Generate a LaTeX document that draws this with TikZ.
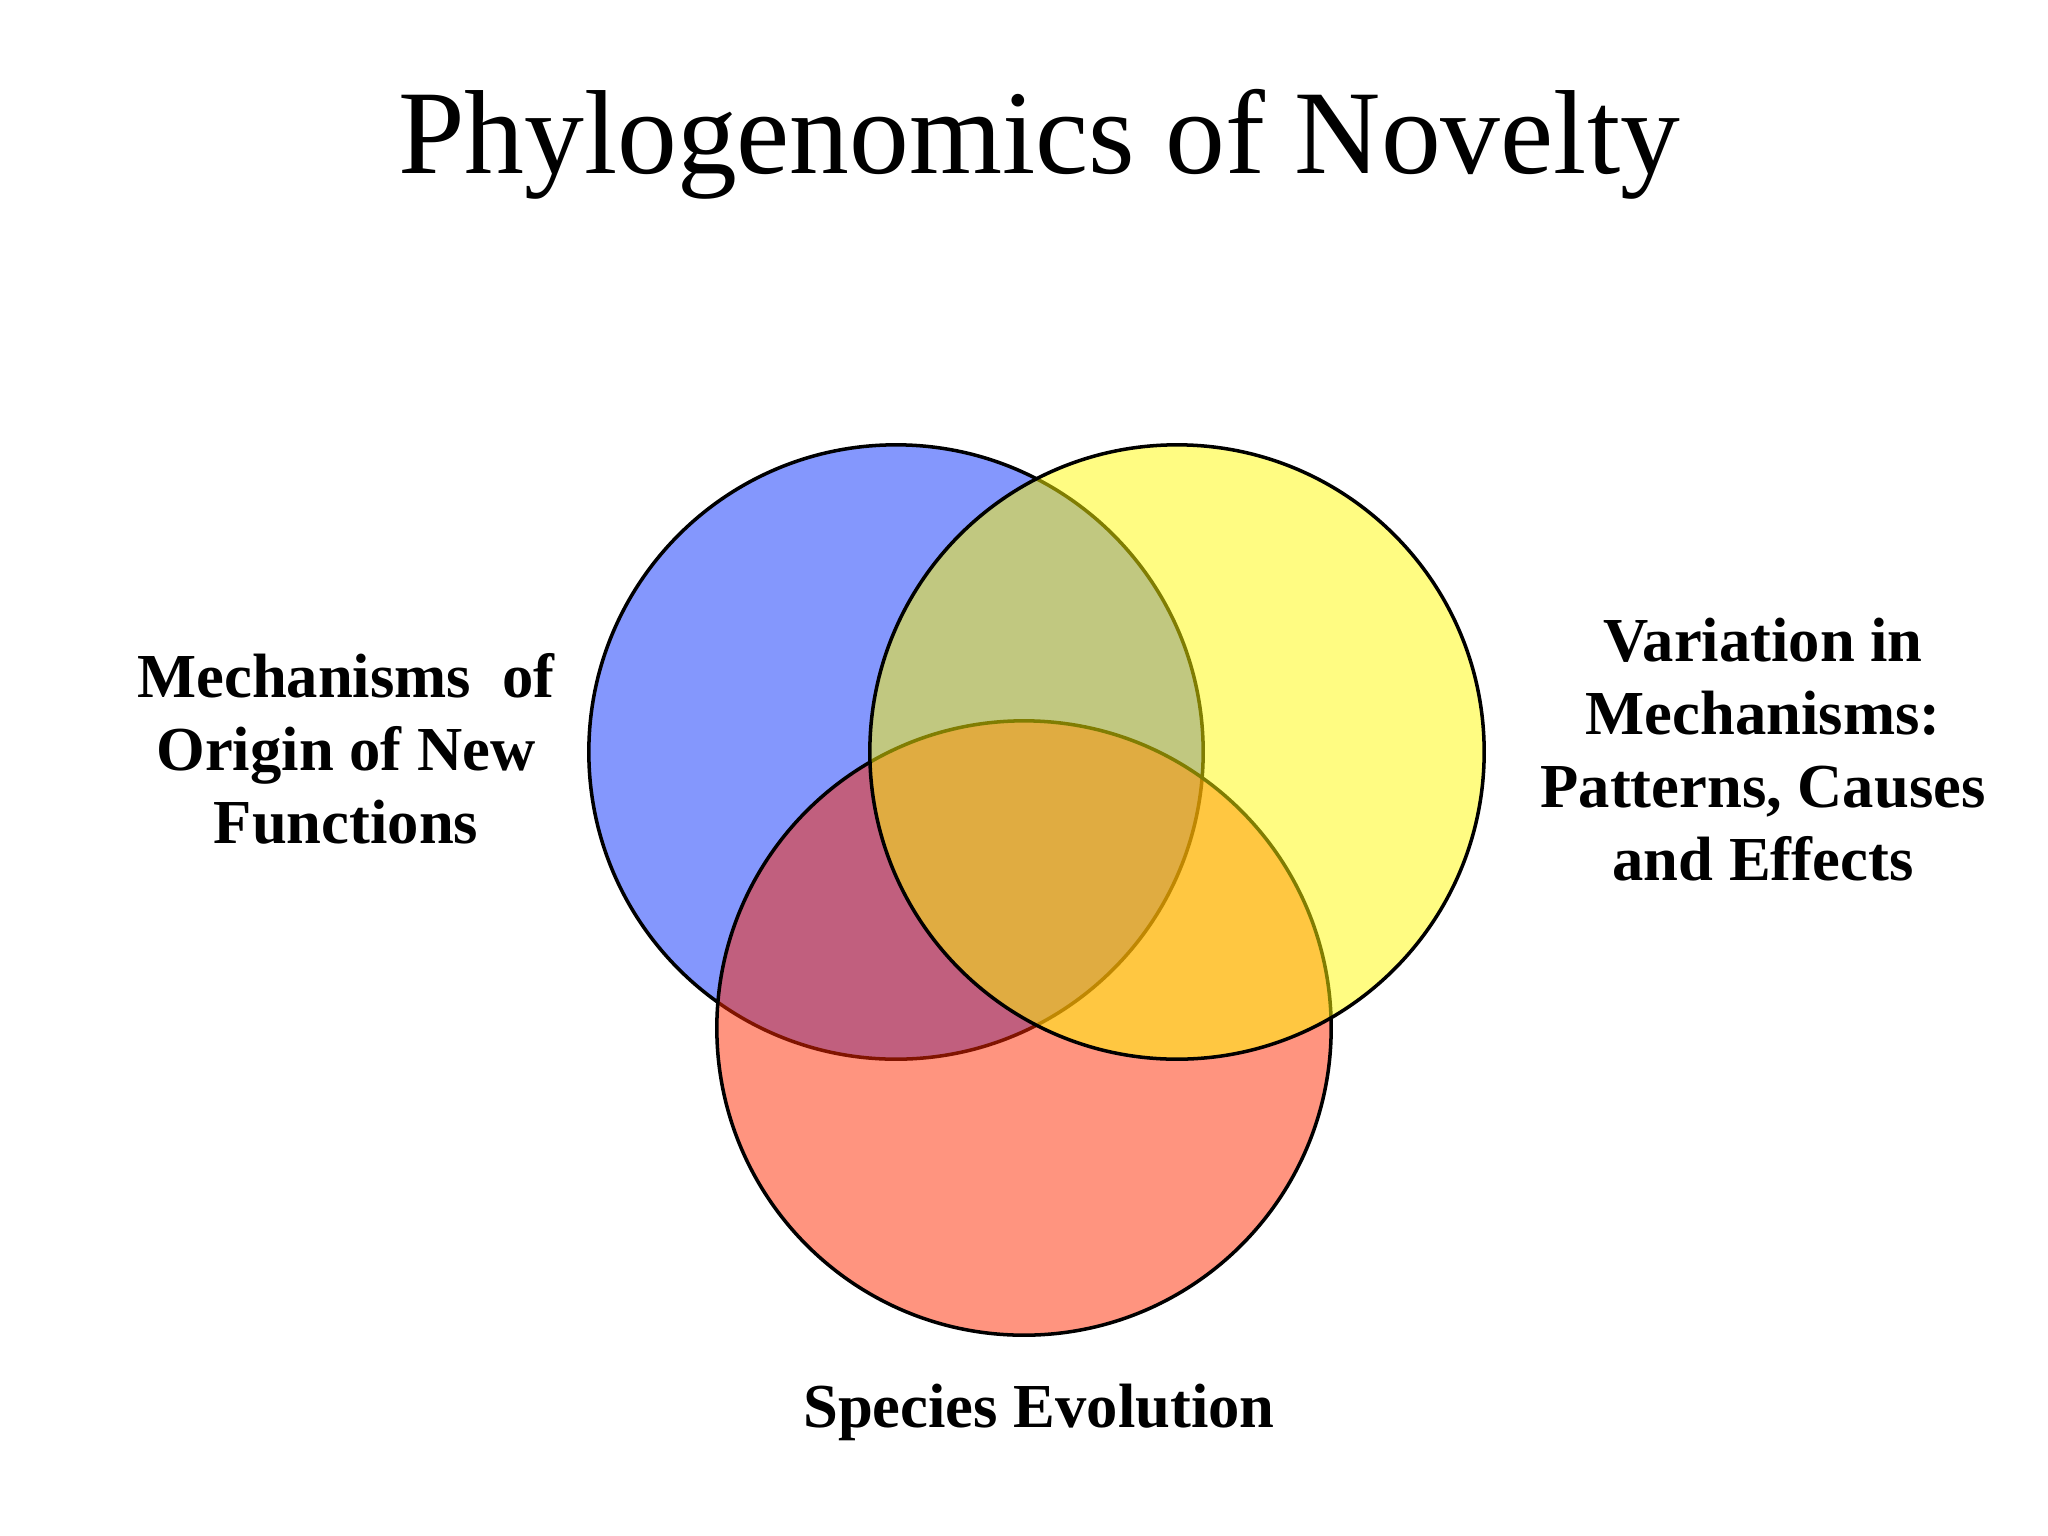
\documentclass[tikz,border=0pt]{standalone}
\usepackage{fontspec}
\setmainfont{Liberation Serif}

\definecolor{setblue}{RGB}{132,151,253}
\definecolor{setred}{RGB}{255,41,0}
\definecolor{setyellow}{RGB}{255,250,5}

\begin{document}
\begin{tikzpicture}[x=0.01cm,y=-0.01cm,
    venn/.style={draw=black, line width=1pt},
    settext/.style={font=\bfseries\fontsize{17.8}{20.7}\selectfont, align=center, anchor=base}]

    \useasboundingbox (0,0) rectangle (2048,1536);

    \node[anchor=base, font=\fontsize{34}{40}\selectfont] (title) at (1039,173) {Phylogenomics of Novelty};

    % the three sets, blue at the bottom
    \begin{scope}[]
    \draw[venn, fill=setblue] (896,752) circle (3.07cm);
    \draw[venn, fill=setred, fill opacity=0.5] (1024,1028) circle (3.07cm);
    \draw[venn, fill=setyellow, fill opacity=0.5] (1177,752) circle (3.07cm);
    \end{scope}

    % anchored at the baseline of the last line
    \node[settext] (origin) at (346,843) {Mechanisms\ \ of\\Origin of New\\Functions};
    \node[settext] (variation) at (1763,880) {Variation in\\Mechanisms:\\Patterns, Causes\\and Effects};
    \node[settext] (species) at (1039,1427) {Species Evolution};
\end{tikzpicture}
\end{document}
